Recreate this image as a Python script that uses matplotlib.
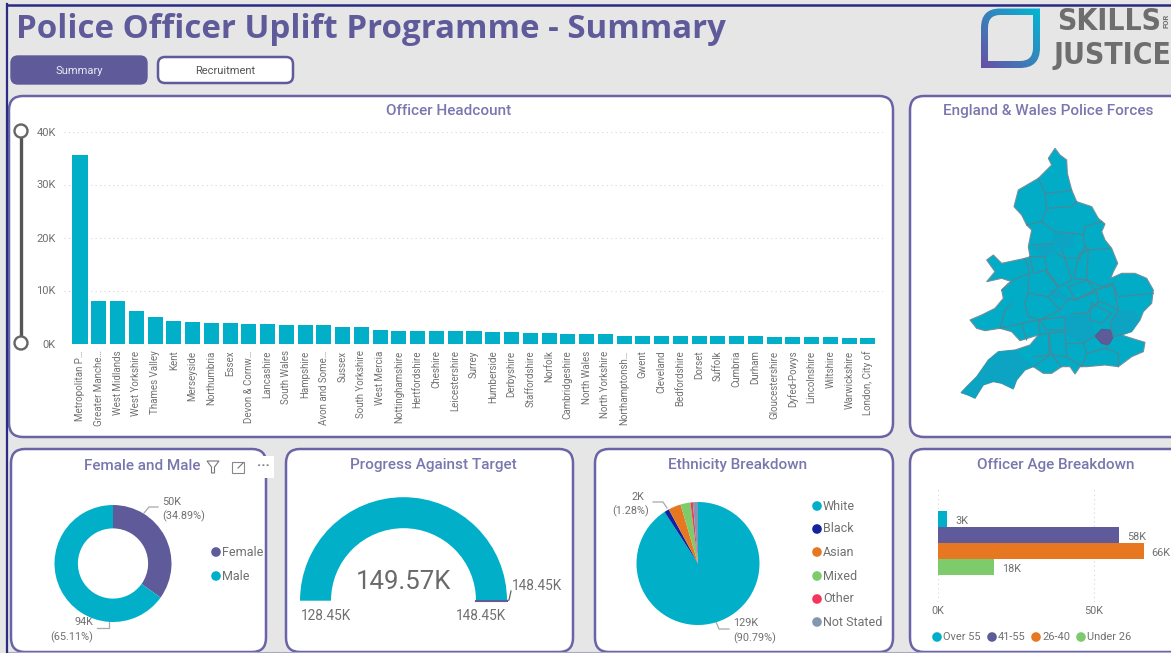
import numpy as np
import matplotlib
matplotlib.use("Agg")
import matplotlib.pyplot as plt
from matplotlib.patches import FancyBboxPatch, Polygon, Wedge, Circle, Rectangle, PathPatch
from matplotlib.path import Path

# Colours
TEAL = "#01B0C8"
PURPLE = "#5F5B9B"
ORANGE = "#E87722"
GREEN = "#7DCB6B"
RED = "#F5365C"
NAVY = "#12239E"
SLATE = "#8497B0"
BORDER = "#6A64A6"
TITLE_COL = "#7A77AE"
GREY = "#707070"
BG = "#E6E6E6"

# Data
forces = ["Metropolitan P…", "Greater Manche…", "West Midlands", "West Yorkshire", "Thames Valley", "Kent",
          "Merseyside", "Northumbria", "Essex", "Devon & Cornw…", "Lancashire", "South Wales", "Hampshire",
          "Avon and Some…", "Sussex", "South Yorkshire", "West Mercia", "Nottinghamshire", "Hertfordshire",
          "Cheshire", "Leicestershire", "Surrey", "Humberside", "Derbyshire", "Staffordshire", "Norfolk",
          "Cambridgeshire", "North Wales", "North Yorkshire", "Northamptonsh…", "Gwent", "Cleveland",
          "Bedfordshire", "Dorset", "Suffolk", "Cumbria", "Durham", "Gloucestershire", "Dyfed-Powys",
          "Lincolnshire", "Wiltshire", "Warwickshire", "London, City of"]
headcount = [35500, 8060, 8060, 6200, 5050, 4300, 4150, 3850, 3850, 3700, 3600, 3500, 3400, 3400, 3200, 3150,
             2500, 2450, 2450, 2400, 2300, 2300, 2250, 2200, 2000, 1950, 1700, 1700, 1700, 1500, 1500, 1450,
             1450, 1450, 1400, 1400, 1400, 1300, 1300, 1200, 1200, 1100, 1000]
y_ticks = [0, 10000, 20000, 30000, 40000]

gender_labels = ["Female", "Male"]
gender_values = [34.89, 65.11]

gauge_min = 128.45
gauge_max = 148.45
gauge_value = 149.57
gauge_target = 148.45

ethnicity_labels = ["White", "Black", "Asian", "Mixed", "Other", "Not Stated"]
ethnicity_values = [129, 1.82, 4.7, 3.7, 0.9, 1.9]
ethnicity_colors = [TEAL, NAVY, ORANGE, GREEN, RED, SLATE]

age_labels = ["Over 55", "41-55", "26-40", "Under 26"]
age_values = [3, 58, 66, 18]
age_colors = [TEAL, PURPLE, ORANGE, GREEN]

# Map shapes
map_outline = [(450, 175), (465, 195), (485, 210), (487, 250), (500, 300), (515, 335), (560, 350), (580, 385),
               (600, 402), (590, 425), (600, 450), (620, 475), (638, 520), (625, 545), (617, 565), (650, 550),
               (690, 550), (725, 565), (745, 600), (740, 640), (715, 665), (705, 690), (680, 725), (650, 735),
               (680, 745), (720, 757), (715, 785), (680, 800), (640, 830), (600, 825), (545, 830), (525, 830),
               (510, 852), (495, 830), (470, 830), (440, 850), (415, 850), (385, 830), (360, 840), (335, 870),
               (325, 897), (290, 880), (265, 875), (235, 885), (210, 925), (190, 915), (168, 908), (185, 890),
               (215, 860), (250, 810), (280, 785), (330, 780), (375, 765), (400, 735), (345, 752), (320, 725),
               (285, 715), (240, 722), (215, 715), (195, 690), (230, 675), (270, 655), (295, 625), (290, 600),
               (320, 575), (290, 565), (245, 575), (270, 545), (245, 510), (265, 495), (290, 520), (360, 505),
               (375, 500), (370, 470), (380, 420), (365, 405), (350, 375), (327, 350), (340, 300), (400, 265),
               (440, 225), (430, 205)]
map_darker = [[(445, 430), (505, 430), (510, 465), (470, 480), (445, 460)],
              [(385, 470), (445, 462), (455, 490), (420, 500), (390, 485)],
              [(432, 600), (460, 595), (495, 630), (445, 625)],
              [(480, 680), (505, 670), (545, 670), (560, 690), (570, 735), (535, 760), (480, 735)],
              [(640, 660), (690, 665), (705, 690), (680, 725), (650, 735), (625, 740), (615, 700)],
              [(250, 810), (280, 785), (330, 780), (385, 830), (360, 840), (335, 870), (325, 897), (290, 880),
               (265, 875), (235, 885), (210, 925), (168, 908), (215, 860)]]
map_london = [(570, 738), (590, 718), (615, 720), (625, 740), (610, 765), (590, 760)]
map_borders = [[(400, 265), (420, 310), (470, 305), (500, 300)],
               [(365, 405), (410, 395), (425, 360), (420, 310)],
               [(430, 355), (500, 350), (515, 335)],
               [(410, 395), (450, 425), (510, 430), (535, 435), (540, 410), (590, 395)],
               [(535, 435), (540, 470), (550, 480), (615, 475)],
               [(380, 465), (445, 460)],
               [(470, 480), (480, 505), (525, 505), (540, 470)],
               [(455, 490), (480, 505), (500, 570), (460, 590), (425, 550)],
               [(525, 490), (550, 480), (545, 570), (505, 565), (525, 490)],
               [(545, 570), (590, 590), (625, 580)],
               [(375, 500), (420, 500), (425, 540), (385, 550), (375, 500)],
               [(425, 540), (460, 590), (430, 620), (370, 610)],
               [(360, 505), (375, 550), (345, 560), (310, 580), (290, 600)],
               [(370, 555), (370, 610), (360, 640), (370, 680), (405, 690), (465, 660), (430, 620)],
               [(490, 590), (545, 570), (570, 600), (510, 630), (490, 590)],
               [(510, 630), (575, 605), (580, 635), (545, 670), (505, 670)],
               [(465, 660), (490, 625), (510, 630)],
               [(570, 600), (625, 585), (640, 660), (600, 640), (580, 635)],
               [(625, 585), (640, 620), (745, 610)],
               [(560, 640), (620, 670), (590, 700), (555, 690), (555, 660), (560, 640)],
               [(640, 660), (615, 700), (625, 740)],
               [(405, 690), (480, 680), (480, 720), (425, 720), (405, 690)],
               [(350, 700), (400, 690), (405, 730)],
               [(285, 715), (350, 700), (365, 750)],
               [(320, 640), (300, 660), (285, 715)],
               [(432, 730), (480, 725), (485, 800), (440, 795), (432, 730)],
               [(400, 735), (432, 730), (430, 800), (385, 830)],
               [(385, 800), (440, 795), (470, 830)],
               [(485, 760), (535, 760), (545, 790), (530, 830), (485, 800)],
               [(535, 760), (570, 738)],
               [(545, 790), (600, 775), (610, 765)],
               [(600, 775), (640, 790), (640, 830)],
               [(625, 740), (650, 735)]]

plt.rcParams["font.family"] = ["Roboto", "DejaVu Sans"]
W, H = 1171, 653
fig = plt.figure(figsize=(W / 100, H / 100), dpi=100, facecolor=BG)


def px_axes(x0, y0, x1, y1):
    ax = fig.add_axes([x0 / W, 1 - y1 / H, (x1 - x0) / W, (y1 - y0) / H])
    ax.patch.set_alpha(0)
    return ax


# Layout layer in pixel coordinates
bg = fig.add_axes([0, 0, 1, 1])
bg.set_xlim(0, W)
bg.set_ylim(H, 0)
bg.axis("off")


def panel(x0, y0, x1, y1, face="white", edge=BORDER, lw=1.8, r=14):
    bg.add_patch(FancyBboxPatch((x0 + r, y0 + r), x1 - x0 - 2 * r, y1 - y0 - 2 * r,
                                boxstyle=f"round,pad={r},rounding_size={r}", fc=face, ec=edge, lw=lw))


def dot_legend(x, y, color, label, size=12.5):
    bg.add_patch(Circle((x, y), 4.8, fc=color, ec="none", zorder=5))
    bg.text(x + 6, y, label, fontsize=size * 0.72, color=GREY, va="center", ha="left", zorder=5)


def leader(xs, ys):
    bg.plot(xs, ys, color="#A8A8A8", lw=0.9, zorder=5)


# Frame lines of the screenshot
bg.plot([7, 7], [4, H], color="#2B2A85", lw=1.6)
bg.plot([7, W], [4.5, 4.5], color="#2B2A85", lw=1.8)

# Header
bg.text(16, 30, "Police Officer Uplift Programme - Summary", fontsize=23.8, fontweight="bold",
        color=PURPLE, family=["Open Sans", "DejaVu Sans"], va="center", ha="left")
panel(11, 56, 147, 84, face=PURPLE, edge=PURPLE, lw=1, r=7)
bg.text(79, 71, "Summary", fontsize=8, color="#E8E8F2", ha="center", va="center")
panel(158, 57, 293, 83, edge=PURPLE, lw=1.8, r=7)
bg.text(225.5, 71, "Recruitment", fontsize=8, color="#555555", ha="center", va="center")

# Logo
grad = np.add.outer(np.linspace(0, 1, 60), np.linspace(1, 0, 60)) / 2
logo_verts = [(1000, 8.5), (1040, 8.5), (1040, 48), (1040, 68), (1020, 68), (981, 68), (981, 28), (981, 8.5), (1000, 8.5),
              (1000, 15), (988, 15), (988, 28), (988, 61), (1020, 61), (1033, 61), (1033, 48), (1033, 15), (1000, 15)]
logo_codes = [Path.MOVETO, Path.LINETO, Path.LINETO, Path.CURVE3, Path.CURVE3, Path.LINETO, Path.LINETO, Path.CURVE3, Path.CURVE3,
              Path.MOVETO, Path.CURVE3, Path.CURVE3, Path.LINETO, Path.LINETO, Path.CURVE3, Path.CURVE3, Path.LINETO, Path.LINETO]
logo_cmap = matplotlib.colors.LinearSegmentedColormap.from_list("logo", ["#00B8D4", "#6A4FA3"])
logo_img = bg.imshow(grad, extent=(981, 1040, 68, 8.5), cmap=logo_cmap, aspect="auto", zorder=2)
logo_img.set_clip_path(PathPatch(Path(logo_verts, logo_codes), transform=bg.transData))
bg.set_xlim(0, W)
bg.set_ylim(H, 0)
bg.text(1057, 21, "SKILLS", fontsize=21.5, fontweight="bold", stretch="condensed", color="#6E6E6E",
        family=["DejaVu Sans"], va="center", ha="left")
bg.text(1054, 55, "JUSTICE", fontsize=21.5, fontweight="bold", stretch="condensed", color="#6E6E6E",
        family=["DejaVu Sans"], va="center", ha="left")
bg.text(1166, 21, "FOR", fontsize=5.5, color="#6E6E6E", rotation=90, va="center", ha="center", fontweight="bold")

# Panels
panel(9, 96, 893, 437)
panel(910, 96, 1190, 437)
panel(11, 449, 266, 652)
panel(286, 449, 573, 652)
panel(595, 449, 893, 652)
panel(910, 449, 1190, 652)
bg.plot([7, W], [652, 652], color="#A9A7CE", lw=0.8, zorder=1)


def panel_title(x, y, label):
    bg.text(x, y, label, fontsize=11, color=TITLE_COL, ha="center", va="center", zorder=6, fontweight="medium")


panel_title(449, 111, "Officer Headcount")
panel_title(1048, 111, "England & Wales Police Forces")
panel_title(142, 465.5, "Female and Male")
panel_title(433, 465.5, "Progress Against Target")
panel_title(738, 465.5, "Ethnicity Breakdown")
panel_title(1056, 465.5, "Officer Age Breakdown")

# Headcount bars
ax = px_axes(64, 131.5, 883, 343.5)
pos = np.arange(len(forces))
ax.bar(pos, headcount, width=0.8, color=TEAL)
ax.set_xlim(-0.853, 42.8)
ax.set_ylim(0, 40000)
ax.set_yticks(y_ticks)
ax.set_yticklabels([f"{int(v / 1000)}K" for v in y_ticks], fontsize=8, color=GREY)
ax.set_xticks(pos)
ax.set_xticklabels(forces, rotation=90, fontsize=7, color=GREY)
ax.tick_params(length=0)
ax.tick_params(axis="x", pad=5)
ax.tick_params(axis="y", pad=6)
ax.grid(axis="y", color="#D5D5D5", linestyle=(0, (1, 3)), lw=0.8)
ax.set_axisbelow(True)
for s in ax.spines.values():
    s.set_visible(False)

# Slider next to the bars
bg.plot([21, 21], [131, 343], color="#555555", lw=2.4, zorder=3)
for yy in (131, 343):
    bg.add_patch(Circle((21, yy), 6.5, fc="white", ec="#666666", lw=1.7, zorder=4))

# Map
ax = px_axes(905, 90, 1171, 440)
ax.set_xlim(0, 798)
ax.set_ylim(1050, 0)
ax.axis("off")
ax.add_patch(Polygon(map_outline, closed=True, fc="#02ACC6", ec="#6F8F9C", lw=0.8))
for shape in map_darker:
    ax.add_patch(Polygon(shape, closed=True, fc="#0CA4C2", ec="none"))
for line in map_borders:
    xs, ys = zip(*line)
    ax.plot(xs, ys, color="#4F8596", lw=0.8)
ax.add_patch(Polygon(map_london, closed=True, fc=PURPLE, ec="#555A8C", lw=0.8))

# Female and Male donut
ax = px_axes(54.5, 505, 171.5, 622)
ax.pie(gender_values, colors=[PURPLE, TEAL], startangle=90, counterclock=False, radius=1,
       wedgeprops=dict(width=0.4))
ax.set_xlim(-1, 1)
ax.set_ylim(-1, 1)
leader([144, 149, 158], [513, 507, 507])
bg.text(162, 502, "50K", fontsize=7.8, color=GREY, va="center", ha="left")
bg.text(162, 516, "(34.89%)", fontsize=7.8, color=GREY, va="center", ha="left")
leader([109, 109, 97], [618, 628, 628])
bg.text(93, 622, "94K", fontsize=7.8, color=GREY, va="center", ha="right")
bg.text(93, 637, "(65.11%)", fontsize=7.8, color=GREY, va="center", ha="right")
dot_legend(216, 552, PURPLE, gender_labels[0])
dot_legend(216, 576, TEAL, gender_labels[1])

# Visual header over the donut card
bg.add_patch(Rectangle((200, 456), 74, 22, fc="white", ec="none", zorder=6))
bg.add_patch(Polygon([(207, 461), (219, 461), (214.5, 467), (214.5, 473), (211.5, 473), (211.5, 467)],
                     closed=True, fc="white", ec="#777777", lw=0.8, zorder=7))
bg.add_patch(Rectangle((232, 462), 12, 11, fc="white", ec="#888888", lw=0.8, zorder=7))
bg.plot([238, 243], [468, 463], color="#777777", lw=0.8, zorder=8)
bg.text(263, 466, "···", fontsize=10, color="#777777", ha="center", va="center", zorder=7, fontweight="bold")

# Progress gauge
ax = px_axes(293.5, 490, 513.5, 610)
ax.set_xlim(-110, 110)
ax.set_ylim(-9.3, 110.7)
ax.axis("off")
gauge_frac = min(1, (gauge_value - gauge_min) / (gauge_max - gauge_min))
ax.add_patch(Wedge((0, 0), 103.5, 180 - 180 * gauge_frac, 180, width=31, fc=TEAL, ec="none"))
target_ang = np.pi * (1 - (gauge_target - gauge_min) / (gauge_max - gauge_min))
ax.plot([72.5 * np.cos(target_ang), 103.5 * np.cos(target_ang)],
        [72.5 * np.sin(target_ang), 103.5 * np.sin(target_ang)], color=PURPLE, lw=1.5)
bg.text(404, 582, f"{gauge_value:.2f}K", fontsize=18.5, color="#6A6A6A", ha="center", va="center", zorder=6)
bg.text(326, 616, f"{gauge_min:.2f}K", fontsize=9.8, color=GREY, ha="center", va="center")
bg.text(481, 616, f"{gauge_target:.2f}K", fontsize=9.8, color=GREY, ha="center", va="center")
bg.text(512, 586, f"{gauge_target:.2f}K", fontsize=9.8, color=GREY, ha="left", va="center")
bg.plot([506, 509, 511], [601, 600, 591], color="#666666", lw=0.9, zorder=6)

# Ethnicity pie
ax = px_axes(636.5, 502, 759.5, 625)
ax.pie(ethnicity_values, colors=ethnicity_colors, startangle=90, counterclock=False, radius=1)
ax.set_xlim(-1, 1)
ax.set_ylim(-1, 1)
leader([653, 663, 667], [502, 502, 508])
bg.text(644, 497, "2K", fontsize=7.8, color=GREY, va="center", ha="right")
bg.text(649, 511, "(1.28%)", fontsize=7.8, color=GREY, va="center", ha="right")
leader([716, 719, 729], [622, 629, 629])
bg.text(733, 623, "129K", fontsize=7.8, color=GREY, va="center", ha="left")
bg.text(733, 638, "(90.79%)", fontsize=7.8, color=GREY, va="center", ha="left")
for yy, lab, col in zip([506, 529, 552, 576, 599, 622], ethnicity_labels, ethnicity_colors):
    dot_legend(817, yy, col, lab)

# Age bars
ax = px_axes(938, 488, 1171, 602)
ypos = np.arange(len(age_values))
ax.barh(ypos, age_values, height=1.0, color=age_colors)
ax.set_xlim(0, 74.8)
ax.set_ylim(5.18, -1.9)
ax.set_xticks([0, 50])
ax.set_xticklabels(["0K", "50K"], fontsize=7.8, color=GREY)
ax.set_yticks([])
ax.tick_params(length=0, pad=3)
ax.grid(axis="x", color="#D5D5D5", linestyle=(0, (1, 3)), lw=0.8)
ax.set_axisbelow(True)
for s in ax.spines.values():
    s.set_visible(False)
for yy, val in zip(ypos, age_values):
    ax.annotate(f"{val}K", (val, yy), xytext=(8, -2), textcoords="offset pixels", fontsize=7.8,
                color=GREY, va="center", ha="left", annotation_clip=False)
for xx, lab, col in zip([937, 992, 1036, 1081], age_labels, age_colors):
    dot_legend(xx, 637, col, lab, size=11)

fig.savefig("out.png", dpi=100, facecolor=BG)
